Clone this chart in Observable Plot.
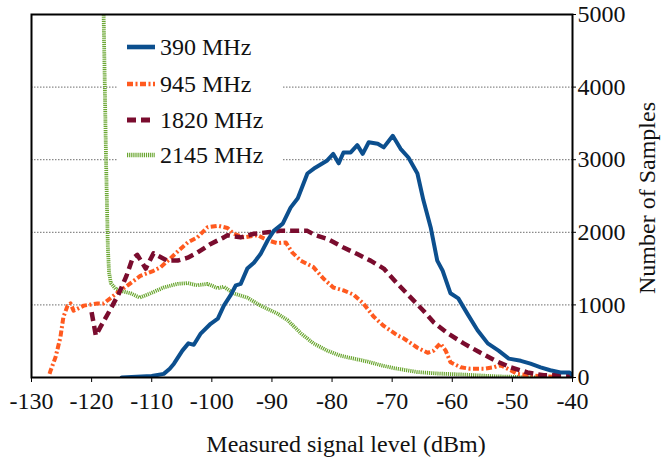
<!DOCTYPE html>
<html>
<head>
<meta charset="utf-8">
<script src="https://cdn.jsdelivr.net/npm/d3@7"></script>
<script src="https://cdn.jsdelivr.net/npm/@observablehq/plot@0.6"></script>
<style>
  html, body { margin: 0; padding: 0; background: #fff; }
  #wrap { position: relative; width: 663px; height: 461px; font-family: "Liberation Serif", "Times New Roman", serif; color: #111; }
  #legend { position: absolute; left: 117px; top: 27px; width: 165px; height: 146px; background: #fff; }
  .row { position: absolute; left: 0; height: 30px; font-size: 24px; line-height: 30px; white-space: nowrap; }
  .row svg { position: absolute; left: 10px; top: 0; }
  .row span { position: absolute; left: 43px; top: 0; }
</style>
</head>
<body>
<div id="wrap"></div>
<script>
// ---- data ----
const seriesNames = ["390 MHz", "945 MHz", "1820 MHz", "2145 MHz"];
const seriesColors = ["#0c4f8e", "#ff5a1f", "#7a0c2e", "#6aa630"];
const xTicks = [-130, -120, -110, -100, -90, -80, -70, -60, -50, -40];
const yTicks = [0, 1000, 2000, 3000, 4000, 5000];
const gridValues = [1000, 2000, 3000, 4000];
const xTitle = "Measured signal level (dBm)";
const yTitle = "Number of Samples";

const x390 = [-115,-110,-108,-107,-106.3,-104.9,-103.9,-103,-101.9,-100.2,-99,-98,-96.9,-96,-95.2,-94.1,-93,-91.9,-90.7,-89.7,-88.2,-86.9,-85.7,-84.1,-82.8,-80.8,-79.8,-78.9,-78.1,-76.9,-75.8,-74.9,-73.9,-72.4,-71.4,-69.9,-68.6,-67.3,-65.8,-64.8,-63.6,-62.5,-61.6,-60.3,-59,-57.5,-55.8,-54.1,-52.3,-50.6,-48.6,-47,-45.3,-43.7,-42,-40.5,-40];
const y390 = [0,20,50,120,190,370,470,450,600,740,810,990,1130,1270,1290,1500,1580,1700,1890,2020,2120,2340,2470,2810,2890,2990,3080,2950,3100,3100,3200,3080,3240,3220,3170,3330,3150,3030,2810,2440,2070,1610,1470,1160,1090,880,650,470,370,260,230,190,140,100,70,70,30];

const x945 = [-127,-126.8,-126,-125.2,-124.7,-124,-123.5,-123,-121.3,-119,-118,-116.9,-115.7,-114,-111.9,-109.7,-108.5,-106.9,-105.5,-104,-102.4,-100.7,-99,-97.4,-96.4,-94.7,-92.4,-90.7,-89.1,-87.7,-86.6,-85.2,-83.1,-81.4,-79.8,-78.1,-76.4,-74.8,-73.1,-71.4,-69.1,-68.1,-65.8,-64.1,-63.1,-62,-61.1,-60.3,-58.6,-57,-54.8,-53.1,-52,-50.3,-49.2,-47,-44.8,-42];
const y945 = [50,100,280,550,830,990,1020,920,990,1020,1020,1090,1170,1270,1400,1470,1520,1640,1750,1860,1930,2070,2090,2060,1980,1930,1960,1890,1850,1860,1720,1610,1520,1360,1240,1200,1140,1020,840,710,580,540,410,340,370,470,370,210,140,120,120,140,170,100,50,30,15,10];

const x1820 = [-120,-119.3,-118.5,-117,-115.5,-114.2,-113.2,-112.4,-111,-109.7,-107.4,-105.7,-104,-102.4,-100.2,-98,-97.4,-95.2,-93,-90.7,-88.6,-86.4,-84.1,-82.8,-80.8,-78.1,-75.8,-73.6,-71.4,-69.1,-66.9,-64.8,-63.1,-60.8,-58.1,-55.3,-52.8,-50.3,-47.5,-44.8,-42,-40];
const y1820 = [900,580,700,920,1150,1400,1640,1690,1500,1710,1610,1610,1650,1720,1840,1930,1960,1930,1980,2000,2020,2020,2020,1960,1910,1790,1700,1610,1500,1290,1100,920,760,610,470,340,230,140,70,30,30,30];

const x2145 = [-118,-117.6,-117.3,-117.1,-116.8,-116,-115,-113.5,-112,-110.2,-108,-105.7,-104,-102.4,-100.7,-99,-98,-96.4,-94.1,-91.9,-89.1,-87.4,-85.2,-83.1,-80.8,-78.6,-76.4,-74.1,-71.9,-69.8,-65.8,-62.5,-58.1,-52.5,-48,-45];
const y2145 = [5000,3000,1800,1450,1300,1220,1190,1160,1100,1160,1240,1290,1300,1270,1290,1230,1250,1160,1100,990,880,790,610,470,370,300,260,220,170,130,75,55,40,15,5,0];

const styles = [
  {dash: null, width: 4},
  {dash: "6,2.5,2,2.5", width: 4},
  {dash: "9,5", width: 4.5},
  {dash: "1.2,0.9", width: 3.8}
];

const xs = [x390, x945, x1820, x2145];
const ys = [y390, y945, y1820, y2145];
const tables = xs.map((xa, i) => xa.map((x, j) => ({x, y: ys[i][j]})));

const lineMarks = tables.map((t, i) => Plot.line(t, {
  x: "x", y: "y",
  stroke: seriesColors[i],
  strokeWidth: styles[i].width,
  strokeDasharray: styles[i].dash,
  strokeLinejoin: "round",
  strokeLinecap: styles[i].dash ? "butt" : "round",
  clip: true
}));

const chart = Plot.plot({
  width: 663,
  height: 461,
  marginLeft: 31,
  marginRight: 91,
  marginTop: 14,
  marginBottom: 84,
  style: {fontFamily: "'Liberation Serif', 'Times New Roman', serif", fontSize: "24px", color: "#111", background: "#fff"},
  x: {domain: [-130, -40]},
  y: {domain: [0, 5000]},
  marks: [
    Plot.ruleY(gridValues, {stroke: "#8a8a8a", strokeWidth: 1.2, strokeDasharray: "1.5,1.5"}),
    lineMarks[3], lineMarks[1], lineMarks[2], lineMarks[0],
    Plot.frame({stroke: "#000", strokeWidth: 2}),
    Plot.axisX({ticks: xTicks, tickSize: 5, tickPadding: 9, tickFormat: d => String(d), label: null, stroke: "#000"}),
    Plot.axisY({anchor: "right", ticks: yTicks, tickSize: 3, tickPadding: 2, tickFormat: d => String(d), label: null, stroke: "#000"})
  ]
});

const wrap = document.getElementById("wrap");
wrap.appendChild(chart);

// axis titles inside the SVG
const svg = d3.select(chart);
svg.append("text")
  .attr("x", 346).attr("y", 452)
  .attr("text-anchor", "middle")
  .attr("fill", "#111")
  .style("font-size", "24px")
  .text(xTitle);
svg.append("text")
  .attr("transform", "translate(655,198) rotate(-90)")
  .attr("text-anchor", "middle")
  .attr("fill", "#111")
  .style("font-size", "24px")
  .text(yTitle);

// legend
const legend = document.createElement("div");
legend.id = "legend";
const rowTops = [5, 42, 78, 113];
seriesNames.forEach((name, i) => {
  const row = document.createElement("div");
  row.className = "row";
  row.style.top = rowTops[i] + "px";
  const s = styles[i];
  row.innerHTML = `<svg width="30" height="30"><line x1="0" x2="28" y1="15" y2="15" stroke="${seriesColors[i]}" stroke-width="${s.width + 0.6}" ${s.dash ? `stroke-dasharray="${s.dash}"` : ""}/></svg><span>${name}</span>`;
  legend.appendChild(row);
});
wrap.appendChild(legend);
</script>
</body>
</html>
